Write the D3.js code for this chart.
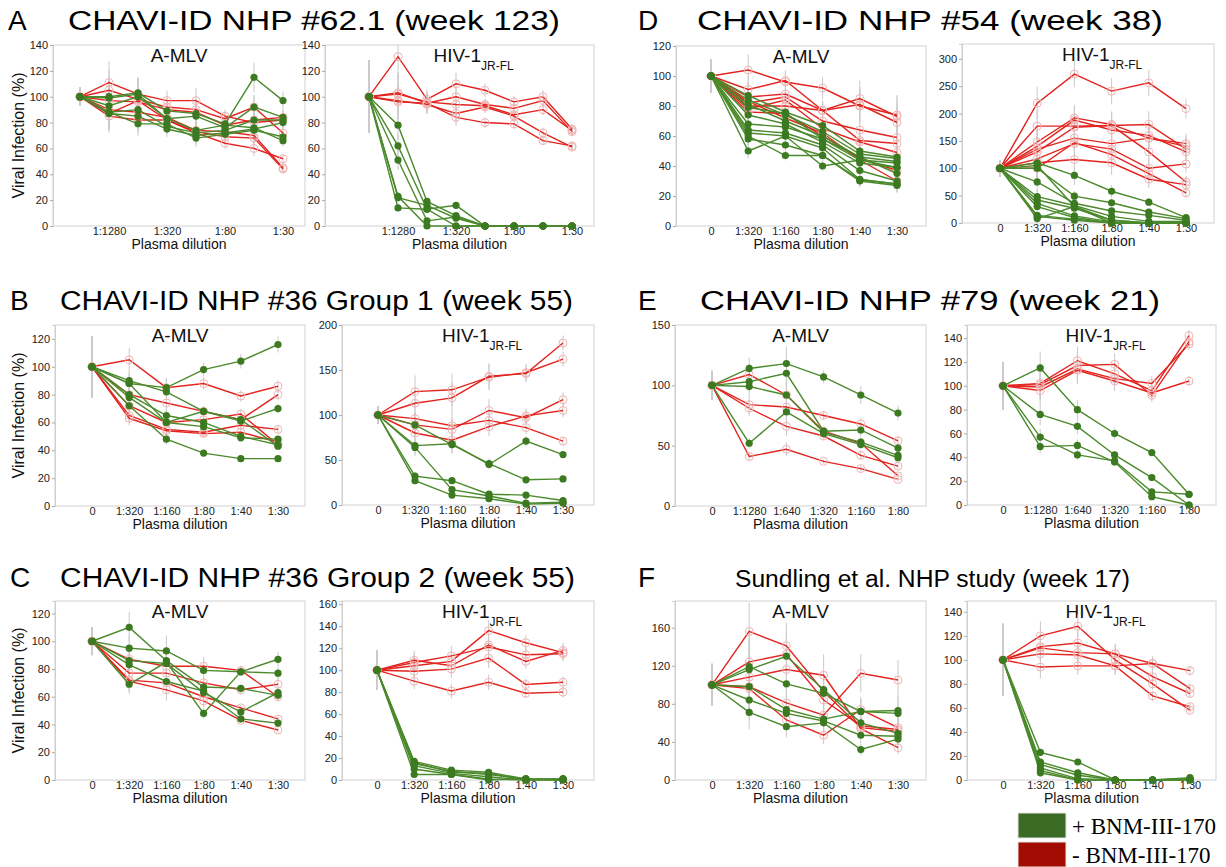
<!DOCTYPE html>
<html>
<head>
<meta charset="utf-8">
<script src="https://cdn.jsdelivr.net/npm/d3@7"></script>
<style>
  body { margin: 0; background: #fff; }
  svg { font-family: "Liberation Sans", Arial, sans-serif; }
  .tick text { font-size: 11px; fill: #222; }
</style>
</head>
<body>
<svg id="chart" width="1226" height="867"></svg>
<script>
// dilution tick labels
const dilA = ["", "1:1280", "", "1:320", "", "1:80", "", "1:30"];
const dil6 = ["0", "1:320", "1:160", "1:80", "1:40", "1:30"];
const dilE = ["0", "1:1280", "1:640", "1:320", "1:160", "1:80"];

// A: CHAVI-ID NHP #62.1 (week 123)
const aMlvGreen = [
  [100, 100, 103, 89, 87, 79, 115, 97],
  [100, 93, 100, 83, 85, 76, 92, 84],
  [100, 88, 90, 77, 72, 74, 82, 82],
  [100, 87, 85, 75, 70, 72, 75, 80],
  [100, 88, 79, 79, 68, 71, 74, 69],
  [100, 99, 102, 83, 74, 78, 76, 66]
];
const aMlvRed = [
  [100, 111, 102, 97, 97, 85, 80, 82],
  [100, 105, 98, 92, 90, 83, 92, 72],
  [100, 97, 96, 90, 88, 78, 82, 84],
  [100, 87, 97, 82, 73, 69, 68, 44],
  [100, 85, 82, 82, 72, 64, 60, 52],
  [100, 90, 88, 84, 74, 73, 70, 45]
];
const aMlvErr = [7, 15, 12, 8, 10, 6, 10, 7];
const aHivGreen = [
  [100, 78, 19, 8, 0, 0, 0, 0],
  [100, 62, 13, 16, 0, 0, 0, 0],
  [100, 51, 4, 7, 0, 0, 0, 0],
  [100, 22, 16, 6, 0, 0, 0, 0],
  [100, 14, 13, 0, 0, 0, 0, 0],
  [100, 23, 0, 0, 0, 0, 0, 0]
];
const aHivRed = [
  [100, 131, 98, 110, 105, 96, 100, 75],
  [100, 103, 95, 100, 94, 91, 97, 73],
  [100, 102, 96, 94, 93, 86, 90, 74],
  [100, 97, 94, 87, 92, 85, 72, 61],
  [100, 96, 95, 84, 80, 79, 66, 62]
];
const aHivErr = [28, 15, 8, 8, 5, 5, 5, 5];

// D: CHAVI-ID NHP #54 (week 38)
const dMlvGreen = [
  [100, 87, 76, 67, 50, 46],
  [100, 84, 74, 63, 48, 45],
  [100, 81, 70, 60, 46, 43],
  [100, 79, 75, 58, 44, 42],
  [100, 74, 68, 56, 42, 39],
  [100, 68, 66, 58, 46, 35],
  [100, 64, 62, 54, 37, 30],
  [100, 62, 60, 52, 31, 28],
  [100, 58, 54, 47, 30, 27],
  [100, 50, 60, 40, 44, 39],
  [100, 60, 47, 47, 31, 28]
];
const dMlvRed = [
  [100, 104, 96, 92, 80, 74],
  [100, 91, 97, 77, 85, 73],
  [100, 86, 88, 77, 81, 69],
  [100, 82, 86, 70, 64, 59],
  [100, 80, 80, 77, 57, 55],
  [100, 78, 84, 65, 56, 49],
  [100, 76, 75, 60, 45, 37],
  [100, 83, 72, 62, 44, 30]
];
const dMlvErr = [11, 10, 7, 8, 14, 18];
const dHivGreen = [
  [100, 110, 87, 58, 38, 10],
  [100, 100, 49, 37, 20, 8],
  [100, 75, 36, 22, 14, 5],
  [100, 48, 32, 12, 3, 3],
  [100, 42, 27, 5, 0, 0],
  [100, 36, 13, 2, 0, 0],
  [100, 30, 10, 0, 0, 0],
  [100, 14, 7, 0, 0, 0],
  [100, 12, 5, 0, 0, 0],
  [100, 8, 30, 5, 0, 0],
  [100, 105, 30, 0, 0, 0]
];
const dHivRed = [
  [100, 219, 272, 241, 256, 209],
  [100, 177, 177, 178, 180, 135],
  [100, 148, 192, 180, 155, 145],
  [100, 140, 188, 170, 160, 130],
  [100, 130, 175, 178, 130, 75],
  [100, 135, 155, 145, 155, 140],
  [100, 117, 145, 135, 100, 108],
  [100, 110, 116, 110, 80, 70],
  [100, 100, 147, 125, 90, 55]
];
const dHivErr = [15, 25, 20, 20, 20, 15];

// B: CHAVI-ID NHP #36 Group 1 (week 55)
const bMlvGreen = [
  [100, 88, 85, 98, 104, 116],
  [100, 90, 82, 68, 61, 70],
  [100, 80, 65, 60, 50, 44],
  [100, 78, 60, 57, 49, 48],
  [100, 72, 48, 38, 34, 34],
  [100, 88, 60, 68, 62, 43]
];
const bMlvRed = [
  [100, 105, 85, 88, 79, 86],
  [100, 80, 74, 68, 62, 80],
  [100, 72, 60, 62, 66, 44],
  [100, 65, 55, 53, 58, 55],
  [100, 63, 54, 52, 53, 46]
];
const bMlvErr = [22, 8, 8, 5, 5, 5];
const bHivGreen = [
  [100, 89, 67, 46, 28, 29],
  [100, 66, 68, 45, 71, 56],
  [100, 64, 17, 10, 2, 3],
  [100, 32, 27, 12, 11, 5],
  [100, 27, 11, 7, 1, 2]
];
const bHivRed = [
  [100, 126, 128, 142, 147, 162],
  [100, 113, 119, 143, 146, 180],
  [100, 96, 88, 94, 86, 71],
  [100, 89, 84, 105, 97, 117],
  [100, 80, 72, 87, 99, 105]
];
const bHivErr = [10, 15, 15, 12, 8, 7];

// E: CHAVI-ID NHP #79 (week 21)
const eMlvGreen = [
  [100, 114, 118, 107, 92, 77],
  [100, 103, 110, 62, 63, 48],
  [100, 99, 92, 61, 53, 42],
  [100, 52, 78, 60, 51, 40]
];
const eMlvRed = [
  [100, 109, 92, 62, 52, 25],
  [100, 84, 82, 75, 68, 54],
  [100, 81, 66, 58, 42, 33],
  [100, 41, 47, 37, 31, 22]
];
const eMlvErr = [12, 8, 12, 5, 8, 8];
const eHivGreen = [
  [100, 115, 80, 60, 44, 9],
  [100, 76, 66, 42, 23, 0],
  [100, 57, 42, 37, 11, 9],
  [100, 49, 50, 36, 7, 0]
];
const eHivRed = [
  [100, 102, 121, 110, 96, 142],
  [100, 101, 117, 118, 92, 137],
  [100, 99, 114, 106, 102, 135],
  [100, 96, 113, 104, 94, 104]
];
const eHivErr = [20, 12, 10, 8, 6, 4];

// C: CHAVI-ID NHP #36 Group 2 (week 55)
const cMlvGreen = [
  [100, 110, 86, 67, 66, 61],
  [100, 95, 93, 79, 78, 77],
  [100, 86, 84, 63, 49, 63],
  [100, 83, 71, 64, 44, 41],
  [100, 69, 85, 48, 78, 87]
];
const cMlvRed = [
  [100, 87, 82, 82, 79, 60],
  [100, 77, 77, 70, 65, 69],
  [100, 72, 70, 60, 52, 44],
  [100, 71, 65, 57, 43, 36]
];
const cMlvErr = [10, 10, 12, 8, 4, 6];
const cHivGreen = [
  [100, 17, 9, 7, 1, 1],
  [100, 15, 8, 5, 1, 0],
  [100, 13, 6, 3, 0, 1],
  [100, 10, 5, 1, 0, 0],
  [100, 5, 5, 0, 1, 0],
  [100, 16, 7, 6, 0, 1]
];
const cHivRed = [
  [100, 104, 108, 136, 125, 116],
  [100, 109, 104, 123, 108, 118],
  [100, 107, 113, 121, 114, 115],
  [100, 99, 101, 111, 87, 89],
  [100, 90, 81, 89, 79, 80]
];
const cHivErr = [18, 8, 8, 8, 6, 6];

// F: Sundling et al. NHP study (week 17)
const fMlvGreen = [
  [100, 116, 130, 95, 60, 49],
  [100, 119, 101, 91, 72, 70],
  [100, 98, 74, 64, 72, 73],
  [100, 84, 70, 62, 47, 46],
  [100, 71, 56, 60, 32, 43]
];
const fMlvRed = [
  [100, 156, 141, 93, 55, 51],
  [100, 124, 132, 84, 57, 53],
  [100, 108, 116, 110, 54, 34],
  [100, 98, 81, 68, 112, 105],
  [100, 96, 63, 47, 74, 55]
];
const fMlvErr = [22, 25, 20, 20, 18, 20];
const fHivGreen = [
  [100, 23, 15, 0, 0, 2],
  [100, 15, 6, 0, 0, 1],
  [100, 13, 4, 0, 0, 0],
  [100, 10, 1, 0, 0, 0],
  [100, 8, 0, 0, 0, 0],
  [100, 6, 0, 0, 0, 1]
];
const fHivRed = [
  [100, 120, 128, 100, 80, 58],
  [100, 111, 114, 105, 86, 72],
  [100, 110, 106, 105, 97, 91],
  [100, 105, 104, 95, 70, 61],
  [100, 94, 95, 95, 97, 76]
];
const fHivErr = [30, 10, 8, 8, 6, 4];

const rowTitles = [
  { letter: "A", text: "CHAVI-ID NHP #62.1 (week 123)", lx: 8, x: 68, w: 492, y: 30, size: 27 },
  { letter: "D", text: "CHAVI-ID NHP #54 (week 38)", lx: 638, x: 697, w: 466, y: 30, size: 27 },
  { letter: "B", text: "CHAVI-ID NHP #36 Group 1 (week 55)", lx: 10, x: 60, w: 513, y: 310, size: 27 },
  { letter: "E", text: "CHAVI-ID NHP #79 (week 21)", lx: 638, x: 700, w: 460, y: 310, size: 27 },
  { letter: "C", text: "CHAVI-ID NHP #36 Group 2 (week 55)", lx: 10, x: 60, w: 515, y: 587, size: 27 },
  { letter: "F", text: "Sundling et al. NHP study (week 17)", lx: 638, x: 735, w: 395, y: 587, size: 23 }
];

const GREEN_LINE = "#4b8a2c";
const GREEN_DOT = "#3c7a22";
const RED_LINE = "#e3231e";
const RED_DOT = "#f3b3b3";

// panel layout: x0/x1 frame, first/last data column, y0/y1 frame, yMax at frame top
const panels = [
  { green: aMlvGreen, red: aMlvRed, err: aMlvErr, ticks: dilA, x0: 53, x1: 305, first: 80, last: 283, y0: 45, y1: 226, yMax: 140, step: 20, hiv: false, ylab: true },
  { green: aHivGreen, red: aHivRed, err: aHivErr, ticks: dilA, x0: 325, x1: 594, first: 369, last: 572, y0: 45, y1: 226, yMax: 140, step: 20, hiv: true },
  { green: dMlvGreen, red: dMlvRed, err: dMlvErr, ticks: dil6, x0: 676, x1: 926, first: 711, last: 897, y0: 46, y1: 226, yMax: 120, step: 20, hiv: false },
  { green: dHivGreen, red: dHivRed, err: dHivErr, ticks: dil6, x0: 962, x1: 1214, first: 1000, last: 1186, y0: 44, y1: 223, yMax: 327, step: 50, hiv: true },
  { green: bMlvGreen, red: bMlvRed, err: bMlvErr, ticks: dil6, x0: 55, x1: 305, first: 92, last: 278, y0: 325, y1: 506, yMax: 130, step: 20, hiv: false, ylab: true },
  { green: bHivGreen, red: bHivRed, err: bHivErr, ticks: dil6, x0: 342, x1: 594, first: 378, last: 563, y0: 325, y1: 505, yMax: 200, step: 50, hiv: true },
  { green: eMlvGreen, red: eMlvRed, err: eMlvErr, ticks: dilE, x0: 675, x1: 926, first: 712, last: 898, y0: 325, y1: 506, yMax: 150, step: 50, hiv: false },
  { green: eHivGreen, red: eHivRed, err: eHivErr, ticks: dilE, x0: 967, x1: 1216, first: 1003, last: 1189, y0: 325, y1: 505, yMax: 151, step: 20, hiv: true },
  { green: cMlvGreen, red: cMlvRed, err: cMlvErr, ticks: dil6, x0: 55, x1: 305, first: 92, last: 278, y0: 601, y1: 780, yMax: 129, step: 20, hiv: false, ylab: true },
  { green: cHivGreen, red: cHivRed, err: cHivErr, ticks: dil6, x0: 342, x1: 594, first: 377, last: 563, y0: 601, y1: 780, yMax: 163, step: 20, hiv: true },
  { green: fMlvGreen, red: fMlvRed, err: fMlvErr, ticks: dil6, x0: 675, x1: 926, first: 712, last: 898, y0: 601, y1: 780, yMax: 188, step: 40, hiv: false },
  { green: fHivGreen, red: fHivRed, err: fHivErr, ticks: dil6, x0: 967, x1: 1216, first: 1003, last: 1190, y0: 601, y1: 780, yMax: 149, step: 20, hiv: true }
];

const svg = d3.select("#chart");

rowTitles.forEach(t => {
  svg.append("text").attr("x", t.lx).attr("y", t.y)
    .attr("font-size", 28).attr("fill", "#000").text(t.letter);
  svg.append("text").attr("x", t.x).attr("y", t.y)
    .attr("font-size", t.size).attr("fill", "#000")
    .attr("textLength", t.w).attr("lengthAdjust", "spacingAndGlyphs")
    .text(t.text);
});

function drawPanel(p) {
  const g = svg.append("g");
  const n = p.ticks.length;
  const x = d3.scaleLinear().domain([0, n - 1]).range([p.first, p.last]);
  const y = d3.scaleLinear().domain([0, p.yMax]).range([p.y1, p.y0]);

  // frame
  g.append("rect")
    .attr("x", p.x0).attr("y", p.y0)
    .attr("width", p.x1 - p.x0).attr("height", p.y1 - p.y0)
    .attr("fill", "#fff").attr("stroke", "#d9d9d9").attr("stroke-width", 1.2);

  const yAxis = g.append("g").attr("transform", `translate(${p.x0},0)`)
    .call(d3.axisLeft(y).tickValues(d3.range(0, p.yMax + 0.1, p.step)).tickSize(3).tickPadding(2));
  yAxis.select(".domain").attr("stroke", "#cfcfcf");
  yAxis.selectAll(".tick line").attr("stroke", "#aaa");

  const xAxis = g.append("g").attr("transform", `translate(0,${p.y1})`)
    .call(d3.axisBottom(x).tickValues(d3.range(n)).tickFormat(i => p.ticks[i]).tickSize(0).tickPadding(1));
  xAxis.select(".domain").remove();

  // subtitle
  const cx = (p.x0 + p.x1) / 2;
  if (p.hiv) {
    const t = g.append("text").attr("x", cx - 26).attr("y", p.y0 + 17)
      .attr("font-size", 19).attr("fill", "#111");
    t.append("tspan").text("HIV-1");
    t.append("tspan").attr("dy", 8).attr("font-size", 12).text("JR-FL");
  } else {
    g.append("text").attr("x", cx).attr("y", p.y0 + 17).attr("text-anchor", "middle")
      .attr("font-size", 19).attr("fill", "#111").text("A-MLV");
  }

  g.append("text").attr("x", cx).attr("y", p.y1 + 23).attr("text-anchor", "middle")
    .attr("font-size", 14).attr("fill", "#111").text("Plasma dilution");

  if (p.ylab) {
    g.append("text")
      .attr("transform", `translate(24,${(p.y0 + p.y1) / 2}) rotate(-90)`)
      .attr("text-anchor", "middle").attr("font-size", 16).attr("fill", "#111")
      .text("Viral Infection (%)");
  }

  // error bars
  const errPts = [];
  p.red.concat(p.green).forEach(s => s.forEach((v, i) => {
    const e = p.err[i] * Math.min(1.2, v / 100);
    if (e > 0.5) errPts.push({ i, lo: Math.max(0, v - e), hi: Math.min(p.yMax, v + e) });
  }));
  g.append("g").selectAll("line").data(errPts).join("line")
    .attr("x1", d => x(d.i)).attr("x2", d => x(d.i))
    .attr("y1", d => y(d.lo)).attr("y2", d => y(d.hi))
    .attr("stroke", "#cacaca").attr("stroke-width", 1);

  const line = d3.line().x((d, i) => x(i)).y(d => y(d));

  g.append("g").selectAll("path").data(p.red).join("path")
    .attr("d", line).attr("fill", "none").attr("stroke", RED_LINE).attr("stroke-width", 1.4);
  g.append("g").selectAll("circle")
    .data(p.red.flatMap(s => s.map((v, i) => ({ v, i }))))
    .join("circle")
    .attr("cx", d => x(d.i)).attr("cy", d => y(d.v)).attr("r", 4)
    .attr("fill", "none").attr("stroke", RED_DOT).attr("stroke-width", 1);

  g.append("g").selectAll("path").data(p.green).join("path")
    .attr("d", line).attr("fill", "none").attr("stroke", GREEN_LINE).attr("stroke-width", 1.4);
  g.append("g").selectAll("circle")
    .data(p.green.flatMap(s => s.map((v, i) => ({ v, i }))))
    .join("circle")
    .attr("cx", d => x(d.i)).attr("cy", d => y(d.v)).attr("r", 3.6)
    .attr("fill", GREEN_DOT);
}

panels.forEach(drawPanel);

// legend
const legend = [
  { label: "+ BNM-III-170", color: "#3b6a25", y: 813 },
  { label: "- BNM-III-170", color: "#a30c02", y: 842 }
];
legend.forEach(l => {
  svg.append("rect").attr("x", 1018).attr("y", l.y).attr("width", 48).attr("height", 25)
    .attr("fill", l.color).attr("stroke", "#e6e6e6").attr("stroke-width", 1);
  svg.append("text").attr("x", 1072).attr("y", l.y + 21)
    .attr("font-family", "'Liberation Serif', 'Times New Roman', serif")
    .attr("font-size", 23).attr("fill", "#000").text(l.label);
});
</script>
</body>
</html>
